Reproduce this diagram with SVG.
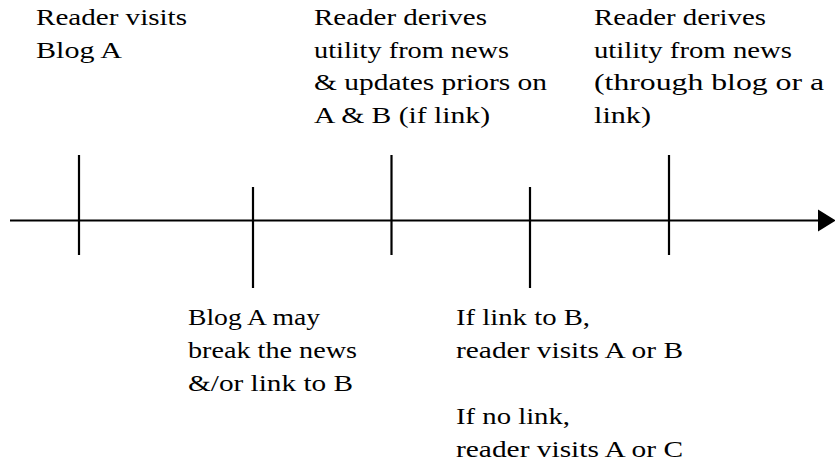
<svg xmlns="http://www.w3.org/2000/svg" width="835" height="466" viewBox="0 0 835 466">
<style>
text{font-family:"Liberation Serif","Times New Roman",serif;font-size:24px;fill:#000}
.ln{stroke:#000;stroke-width:2.2;fill:none}
</style>
<rect width="835" height="466" fill="#fff"/>
<g id="connectors">
<line class="ln" x1="10" y1="220.5" x2="820" y2="220.5"/>
<polygon points="818,209.5 836,220.5 818,231.5" fill="#000"/>
</g>
<g id="tick1"><line class="ln" x1="79" y1="155" x2="79" y2="255"/>
<text x="36" y="25" textLength="151" lengthAdjust="spacingAndGlyphs">Reader visits</text>
<text x="36" y="57.5" textLength="86" lengthAdjust="spacingAndGlyphs">Blog A</text></g>
<g id="tick2"><line class="ln" x1="253" y1="187" x2="253" y2="288"/>
<text x="188" y="325" textLength="132" lengthAdjust="spacingAndGlyphs">Blog A may</text>
<text x="188" y="358" textLength="169" lengthAdjust="spacingAndGlyphs">break the news</text>
<text x="188" y="391" textLength="165" lengthAdjust="spacingAndGlyphs">&amp;/or link to B</text></g>
<g id="tick3"><line class="ln" x1="391.5" y1="155" x2="391.5" y2="255"/>
<text x="314" y="25" textLength="173" lengthAdjust="spacingAndGlyphs">Reader derives</text>
<text x="314" y="57.5" textLength="195" lengthAdjust="spacingAndGlyphs">utility from news</text>
<text x="314" y="90" textLength="233" lengthAdjust="spacingAndGlyphs">&amp; updates priors on</text>
<text x="314" y="122.5" textLength="176" lengthAdjust="spacingAndGlyphs">A &amp; B (if link)</text></g>
<g id="tick4"><line class="ln" x1="530" y1="187" x2="530" y2="288"/>
<text x="456" y="325" textLength="134" lengthAdjust="spacingAndGlyphs">If link to B,</text>
<text x="456" y="358" textLength="227" lengthAdjust="spacingAndGlyphs">reader visits A or B</text>
<text x="456" y="424" textLength="114" lengthAdjust="spacingAndGlyphs">If no link,</text>
<text x="456" y="457" textLength="227" lengthAdjust="spacingAndGlyphs">reader visits A or C</text></g>
<g id="tick5"><line class="ln" x1="669" y1="155" x2="669" y2="255"/>
<text x="594" y="25" textLength="172" lengthAdjust="spacingAndGlyphs">Reader derives</text>
<text x="594" y="57.5" textLength="198" lengthAdjust="spacingAndGlyphs">utility from news</text>
<text x="594" y="90" textLength="230" lengthAdjust="spacingAndGlyphs">(through blog or a</text>
<text x="594" y="122.5" textLength="57" lengthAdjust="spacingAndGlyphs">link)</text></g>
</svg>
